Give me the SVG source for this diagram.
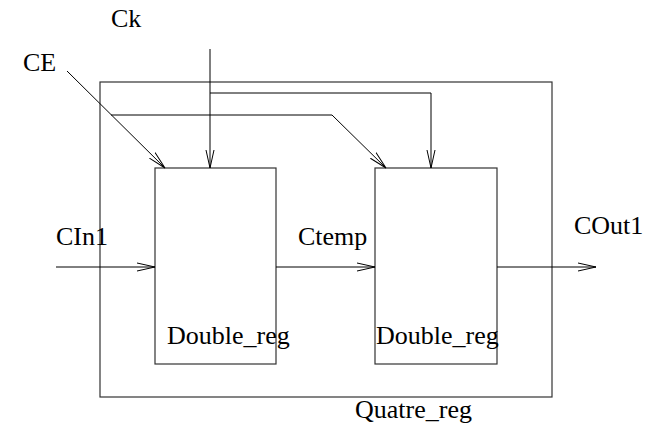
<svg xmlns="http://www.w3.org/2000/svg" width="658" height="425" viewBox="0 0 658 425">
<style>
.ln{fill:none;stroke:#000;stroke-width:1}
.bx{fill:none;stroke:#333;stroke-width:1.2}
.t{font-family:"Liberation Serif","Times New Roman",serif;font-size:26px;fill:#000}
</style>
<defs>
<marker id="ah" markerUnits="userSpaceOnUse" markerWidth="22" markerHeight="12" refX="18" refY="5" orient="auto">
<path d="M0,1 L18,5 L0,9" fill="none" stroke="#000" stroke-width="1"/>
</marker>
</defs>
<rect width="658" height="425" fill="#fff"/>
<g id="quatre_reg">
<rect class="bx" x="100" y="82" width="452" height="315"/>
<text class="t" x="355" y="418">Quatre_reg</text>
</g>
<g id="double_reg1">
<rect class="bx" x="155" y="168" width="121" height="196"/>
<text class="t" x="167" y="344">Double_reg</text>
</g>
<g id="double_reg2">
<rect class="bx" x="375" y="168" width="122" height="196"/>
<text class="t" x="376" y="344">Double_reg</text>
</g>
<g id="connectors">
<line class="ln" x1="210" y1="49" x2="210" y2="168" marker-end="url(#ah)"/>
<polyline class="ln" points="210,93 431,93 431,168" marker-end="url(#ah)"/>
<line class="ln" x1="67" y1="71" x2="165" y2="168" marker-end="url(#ah)"/>
<polyline class="ln" points="111,115 332,115 386,168" marker-end="url(#ah)"/>
<line class="ln" x1="56" y1="267" x2="155" y2="267" marker-end="url(#ah)"/>
<line class="ln" x1="276" y1="267" x2="375" y2="267" marker-end="url(#ah)"/>
<line class="ln" x1="497" y1="267" x2="596" y2="267" marker-end="url(#ah)"/>
</g>
<g id="labels">
<text class="t" x="111" y="27">Ck</text>
<text class="t" x="23" y="71">CE</text>
<text class="t" x="56" y="245">CIn1</text>
<text class="t" x="298" y="245">Ctemp</text>
<text class="t" x="574" y="234">COut1</text>
</g>
</svg>
